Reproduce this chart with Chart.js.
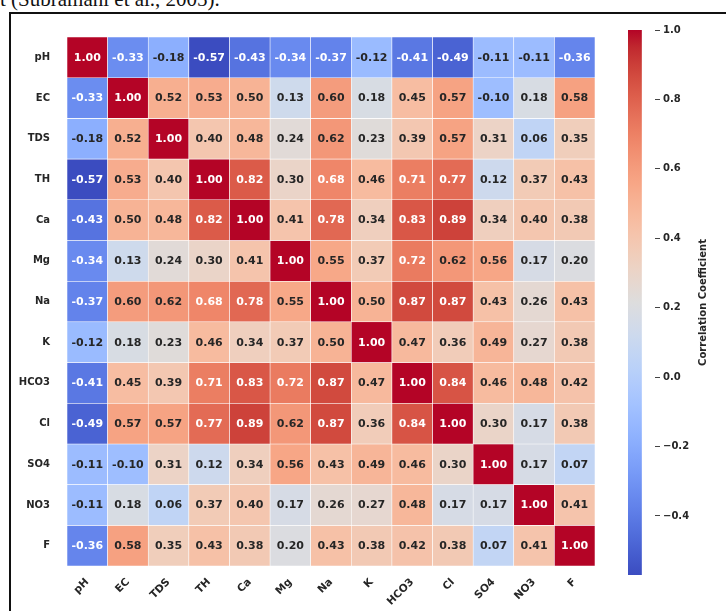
<!DOCTYPE html>
<html>
<head>
<meta charset="utf-8">
<script src="https://cdn.jsdelivr.net/npm/chart.js@4.4.1/dist/chart.umd.min.js"></script>
<style>
  html, body { margin: 0; padding: 0; background: #fff; }
  #page { position: relative; width: 726px; height: 611px; overflow: hidden; background: #fff; }
  #cite { position: absolute; left: 0px; top: -11px; font: 21px/21px "Liberation Serif", serif; color: #111; white-space: nowrap; }
  #frame { position: absolute; left: 9px; top: 12px; width: 800px; height: 700px; border: 2px solid #111; box-sizing: border-box; }
  #heat { position: absolute; left: 0; top: 0; }
  #cbar { position: absolute; left: 620px; top: 0; }
</style>
</head>
<body>
<div id="page">
  <div id="cite">t (Subramani et al., 2005).</div>
  <div id="frame"></div>
  <canvas id="heat" width="620" height="611"></canvas>
  <canvas id="cbar" width="106" height="611"></canvas>
</div>
<script>
// Hydrochemical parameters (row and column order of the matrix)
const variables = ['pH', 'EC', 'TDS', 'TH', 'Ca', 'Mg', 'Na', 'K', 'HCO3', 'Cl', 'SO4', 'NO3', 'F'];

// Pearson correlation coefficients, one row per parameter
const corrPH   = [ 1.00, -0.33, -0.18, -0.57, -0.43, -0.34, -0.37, -0.12, -0.41, -0.49, -0.11, -0.11, -0.36];
const corrEC   = [-0.33,  1.00,  0.52,  0.53,  0.50,  0.13,  0.60,  0.18,  0.45,  0.57, -0.10,  0.18,  0.58];
const corrTDS  = [-0.18,  0.52,  1.00,  0.40,  0.48,  0.24,  0.62,  0.23,  0.39,  0.57,  0.31,  0.06,  0.35];
const corrTH   = [-0.57,  0.53,  0.40,  1.00,  0.82,  0.30,  0.68,  0.46,  0.71,  0.77,  0.12,  0.37,  0.43];
const corrCa   = [-0.43,  0.50,  0.48,  0.82,  1.00,  0.41,  0.78,  0.34,  0.83,  0.89,  0.34,  0.40,  0.38];
const corrMg   = [-0.34,  0.13,  0.24,  0.30,  0.41,  1.00,  0.55,  0.37,  0.72,  0.62,  0.56,  0.17,  0.20];
const corrNa   = [-0.37,  0.60,  0.62,  0.68,  0.78,  0.55,  1.00,  0.50,  0.87,  0.87,  0.43,  0.26,  0.43];
const corrK    = [-0.12,  0.18,  0.23,  0.46,  0.34,  0.37,  0.50,  1.00,  0.47,  0.36,  0.49,  0.27,  0.38];
const corrHCO3 = [-0.41,  0.45,  0.39,  0.71,  0.83,  0.72,  0.87,  0.47,  1.00,  0.84,  0.46,  0.48,  0.42];
const corrCl   = [-0.49,  0.57,  0.57,  0.77,  0.89,  0.62,  0.87,  0.36,  0.84,  1.00,  0.30,  0.17,  0.38];
const corrSO4  = [-0.11, -0.10,  0.31,  0.12,  0.34,  0.56,  0.43,  0.49,  0.46,  0.30,  1.00,  0.17,  0.07];
const corrNO3  = [-0.11,  0.18,  0.06,  0.37,  0.40,  0.17,  0.26,  0.27,  0.48,  0.17,  0.17,  1.00,  0.41];
const corrF    = [-0.36,  0.58,  0.35,  0.43,  0.38,  0.20,  0.43,  0.38,  0.42,  0.38,  0.07,  0.41,  1.00];

const corrMatrix = [corrPH, corrEC, corrTDS, corrTH, corrCa, corrMg, corrNa, corrK, corrHCO3, corrCl, corrSO4, corrNO3, corrF];

// Colour scale limits and colour-bar ticks
const vmin = -0.57;
const vmax = 1.0;
const colorbarTicks = [-0.4, -0.2, 0.0, 0.2, 0.4, 0.6, 0.8, 1.0];

// Diverging cool-warm colour map (blue -> grey -> red)
const coolwarm = [
  [59,76,192],[68,90,204],[77,104,215],[87,117,225],[98,130,234],[108,142,241],
  [119,154,247],[130,165,251],[141,176,254],[152,185,255],[163,194,255],[174,201,253],
  [184,208,249],[194,213,244],[204,217,238],[213,219,230],[221,221,221],[229,216,209],
  [236,211,197],[241,204,184],[245,196,172],[247,187,159],[247,177,147],[247,166,134],
  [244,154,123],[241,141,111],[236,127,99],[229,112,89],[222,96,77],[213,80,66],
  [203,62,56],[192,40,47],[180,4,38]
];

function cmap(t) {
  t = Math.max(0, Math.min(1, t));
  const last = coolwarm.length - 1;
  const p = t * last;
  const i = Math.min(Math.floor(p), last - 1);
  const f = p - i;
  const a = coolwarm[i], b = coolwarm[i + 1];
  return [0, 1, 2].map(k => Math.round(a[k] + (b[k] - a[k]) * f));
}
const colorFor = v => cmap((v - vmin) / (vmax - vmin));
const rgb = c => `rgb(${c[0]},${c[1]},${c[2]})`;
function luminance(c) {
  const lin = c.map(x => { x /= 255; return x <= 0.03928 ? x / 12.92 : Math.pow((x + 0.055) / 1.055, 2.4); });
  return 0.2126 * lin[0] + 0.7152 * lin[1] + 0.0722 * lin[2];
}

const FONT = '"DejaVu Sans", sans-serif';
const n = variables.length;

// Each row of the matrix is one dataset of floating bars spanning one unit on the y scale
const datasets = corrMatrix.map((row, i) => ({
  label: variables[i],
  data: row.map(() => [n - 1 - i, n - i]),
  corr: row,
  backgroundColor: row.map(v => rgb(colorFor(v))),
  borderColor: '#ffffff',
  borderWidth: 0.6,
  borderSkipped: false,
  grouped: false,
  barPercentage: 1,
  categoryPercentage: 1
}));

// Writes the coefficient inside each cell, dark or white depending on the cell colour
const cellLabels = {
  id: 'cellLabels',
  afterDatasetsDraw(chart) {
    const ctx = chart.ctx;
    ctx.save();
    ctx.font = `bold 11px ${FONT}`;
    ctx.textAlign = 'center';
    ctx.textBaseline = 'middle';
    chart.data.datasets.forEach((ds, i) => {
      chart.getDatasetMeta(i).data.forEach((bar, j) => {
        const v = ds.corr[j];
        ctx.fillStyle = luminance(colorFor(v)) > 0.408 ? '#262626' : '#ffffff';
        ctx.fillText(v.toFixed(2), bar.x, (bar.y + bar.base) / 2 + 0.5);
      });
    });
    ctx.restore();
  }
};

new Chart(document.getElementById('heat'), {
  type: 'bar',
  data: { labels: variables, datasets },
  options: {
    responsive: false,
    animation: false,
    layout: { padding: { top: 37, right: 25, left: 0, bottom: 0 } },
    plugins: { legend: { display: false }, tooltip: { enabled: false } },
    scales: {
      x: {
        type: 'category',
        offset: true,
        grid: { display: false },
        border: { display: false },
        ticks: {
          autoSkip: false, minRotation: 45, maxRotation: 45, padding: 2,
          color: '#262626', font: { family: FONT, size: 10.5, weight: 'bold' }
        },
        afterFit: s => { s.height = 45; }
      },
      y: {
        type: 'linear', min: 0, max: n,
        grid: { display: false },
        border: { display: false },
        afterBuildTicks: s => { s.ticks = variables.map((_, i) => ({ value: n - i - 0.5 })); },
        ticks: {
          padding: 9, color: '#262626',
          font: { family: FONT, size: 10, weight: 'bold' },
          callback: v => variables[Math.round(n - v - 0.5)]
        },
        afterFit: s => { s.width = 67; }
      }
    }
  },
  plugins: [cellLabels]
});

// Colour bar: one floating bar over the full value range, filled with the colour map
const colorbarTitle = {
  id: 'colorbarTitle',
  afterDraw(chart) {
    const ctx = chart.ctx;
    const area = chart.chartArea;
    ctx.save();
    ctx.translate(83, (area.top + area.bottom) / 2);
    ctx.rotate(-Math.PI / 2);
    ctx.font = `bold 10px ${FONT}`;
    ctx.fillStyle = '#262626';
    ctx.textAlign = 'center';
    ctx.textBaseline = 'middle';
    ctx.fillText('Correlation Coefficient', 0, 0);
    ctx.restore();
  }
};

new Chart(document.getElementById('cbar'), {
  type: 'bar',
  data: {
    labels: [''],
    datasets: [{
      data: [[vmin, vmax]],
      borderWidth: 0,
      barPercentage: 1,
      categoryPercentage: 1,
      backgroundColor(ctx) {
        const chart = ctx.chart;
        if (!chart.chartArea) return rgb(coolwarm[16]);
        const y = chart.scales.y;
        const g = chart.ctx.createLinearGradient(0, y.getPixelForValue(vmin), 0, y.getPixelForValue(vmax));
        coolwarm.forEach((c, k) => g.addColorStop(k / (coolwarm.length - 1), rgb(c)));
        return g;
      }
    }]
  },
  options: {
    responsive: false,
    animation: false,
    layout: { padding: { left: 8, top: 30, bottom: 36, right: 0 } },
    plugins: { legend: { display: false }, tooltip: { enabled: false } },
    scales: {
      x: { display: false, offset: false },
      y: {
        position: 'right', min: vmin, max: vmax,
        grid: { drawOnChartArea: false, drawTicks: true, tickLength: 5, color: '#444', lineWidth: 1 },
        border: { display: false },
        afterBuildTicks: s => { s.ticks = colorbarTicks.map(v => ({ value: v })); },
        ticks: {
          padding: 3, color: '#262626',
          font: { family: FONT, size: 10, weight: 'bold' },
          callback: v => (Math.abs(v) < 1e-9 ? '0.0' : (v < 0 ? '\u2212' + Math.abs(v).toFixed(1) : v.toFixed(1)))
        },
        afterFit: s => { s.width = 71; }
      }
    }
  },
  plugins: [colorbarTitle]
});
</script>
</body>
</html>
